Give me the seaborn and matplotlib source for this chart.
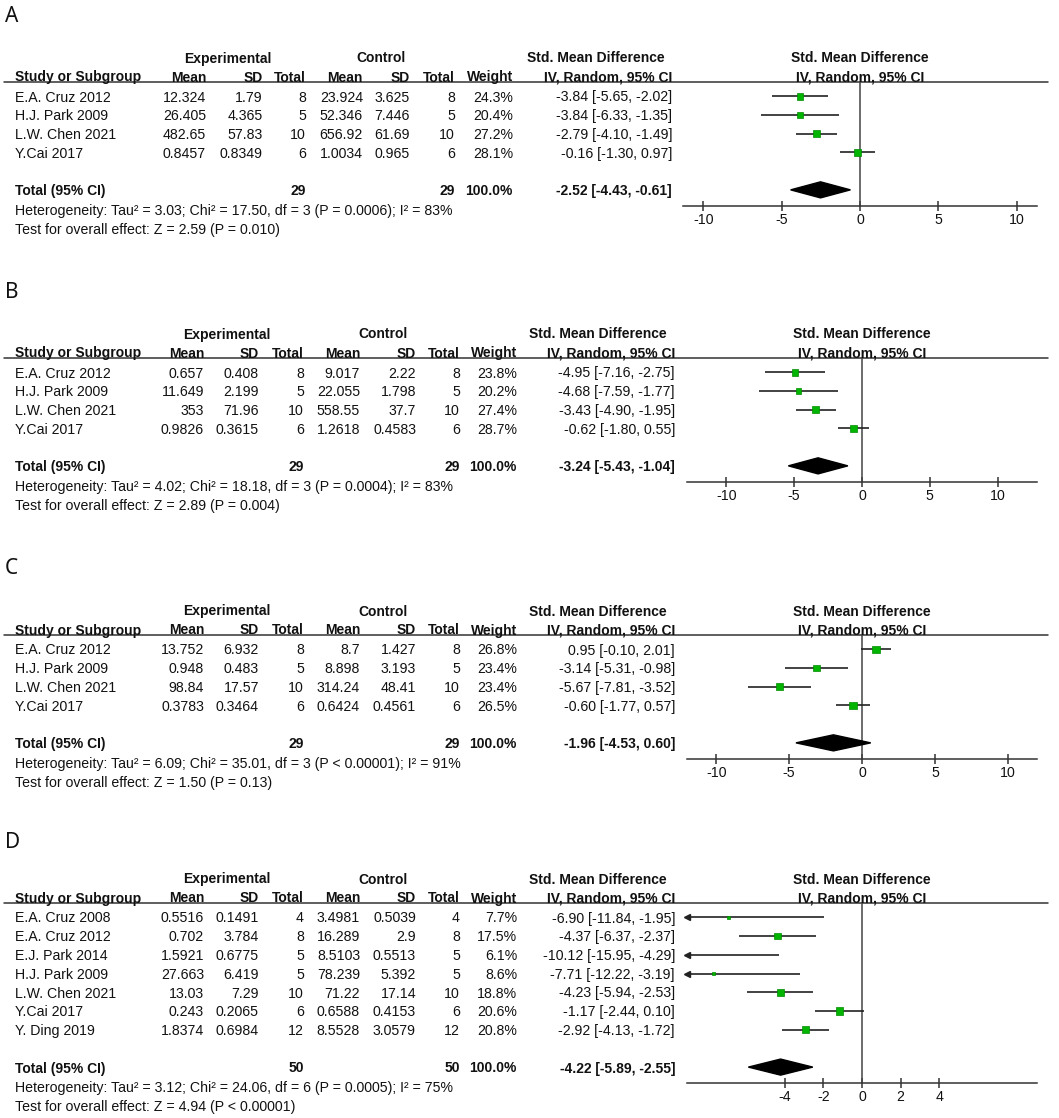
import matplotlib
matplotlib.use("Agg")
import matplotlib.pyplot as plt
import seaborn as sns
import numpy as np
import pandas as pd

# ---------------- panel A ----------------
studies_a = ["E.A. Cruz 2012", "H.J. Park 2009", "L.W. Chen 2021", "Y.Cai 2017"]
exp_mean_a = [12.324, 26.405, 482.65, 0.8457]
exp_sd_a = [1.79, 4.365, 57.83, 0.8349]
exp_n_a = [8, 5, 10, 6]
ctl_mean_a = [23.924, 52.346, 656.92, 1.0034]
ctl_sd_a = [3.625, 7.446, 61.69, 0.965]
ctl_n_a = [8, 5, 10, 6]
weight_a = [24.3, 20.4, 27.2, 28.1]
smd_a = [-3.84, -3.84, -2.79, -0.16]
lo_a = [-5.65, -6.33, -4.10, -1.30]
hi_a = [-2.02, -1.35, -1.49, 0.97]
pooled_a = [-2.52, -4.43, -0.61]
het_a = "Heterogeneity: Tau\u00b2 = 3.03; Chi\u00b2 = 17.50, df = 3 (P = 0.0006); I\u00b2 = 83%"
test_a = "Test for overall effect: Z = 2.59 (P = 0.010)"

# ---------------- panel B ----------------
studies_b = ["E.A. Cruz 2012", "H.J. Park 2009", "L.W. Chen 2021", "Y.Cai 2017"]
exp_mean_b = [0.657, 11.649, 353, 0.9826]
exp_sd_b = [0.408, 2.199, 71.96, 0.3615]
exp_n_b = [8, 5, 10, 6]
ctl_mean_b = [9.017, 22.055, 558.55, 1.2618]
ctl_sd_b = [2.22, 1.798, 37.7, 0.4583]
ctl_n_b = [8, 5, 10, 6]
weight_b = [23.8, 20.2, 27.4, 28.7]
smd_b = [-4.95, -4.68, -3.43, -0.62]
lo_b = [-7.16, -7.59, -4.90, -1.80]
hi_b = [-2.75, -1.77, -1.95, 0.55]
pooled_b = [-3.24, -5.43, -1.04]
het_b = "Heterogeneity: Tau\u00b2 = 4.02; Chi\u00b2 = 18.18, df = 3 (P = 0.0004); I\u00b2 = 83%"
test_b = "Test for overall effect: Z = 2.89 (P = 0.004)"

# ---------------- panel C ----------------
studies_c = ["E.A. Cruz 2012", "H.J. Park 2009", "L.W. Chen 2021", "Y.Cai 2017"]
exp_mean_c = [13.752, 0.948, 98.84, 0.3783]
exp_sd_c = [6.932, 0.483, 17.57, 0.3464]
exp_n_c = [8, 5, 10, 6]
ctl_mean_c = [8.7, 8.898, 314.24, 0.6424]
ctl_sd_c = [1.427, 3.193, 48.41, 0.4561]
ctl_n_c = [8, 5, 10, 6]
weight_c = [26.8, 23.4, 23.4, 26.5]
smd_c = [0.95, -3.14, -5.67, -0.60]
lo_c = [-0.10, -5.31, -7.81, -1.77]
hi_c = [2.01, -0.98, -3.52, 0.57]
pooled_c = [-1.96, -4.53, 0.60]
het_c = "Heterogeneity: Tau\u00b2 = 6.09; Chi\u00b2 = 35.01, df = 3 (P < 0.00001); I\u00b2 = 91%"
test_c = "Test for overall effect: Z = 1.50 (P = 0.13)"

# ---------------- panel D ----------------
studies_d = ["E.A. Cruz 2008", "E.A. Cruz 2012", "E.J. Park 2014", "H.J. Park 2009",
             "L.W. Chen 2021", "Y.Cai 2017", "Y. Ding 2019"]
exp_mean_d = [0.5516, 0.702, 1.5921, 27.663, 13.03, 0.243, 1.8374]
exp_sd_d = [0.1491, 3.784, 0.6775, 6.419, 7.29, 0.2065, 0.6984]
exp_n_d = [4, 8, 5, 5, 10, 6, 12]
ctl_mean_d = [3.4981, 16.289, 8.5103, 78.239, 71.22, 0.6588, 8.5528]
ctl_sd_d = [0.5039, 2.9, 0.5513, 5.392, 17.14, 0.4153, 3.0579]
ctl_n_d = [4, 8, 5, 5, 10, 6, 12]
weight_d = [7.7, 17.5, 6.1, 8.6, 18.8, 20.6, 20.8]
smd_d = [-6.90, -4.37, -10.12, -7.71, -4.23, -1.17, -2.92]
lo_d = [-11.84, -6.37, -15.95, -12.22, -5.94, -2.44, -4.13]
hi_d = [-1.95, -2.37, -4.29, -3.19, -2.53, 0.10, -1.72]
pooled_d = [-4.22, -5.89, -2.55]
het_d = "Heterogeneity: Tau\u00b2 = 3.12; Chi\u00b2 = 24.06, df = 6 (P = 0.0005); I\u00b2 = 75%"
test_d = "Test for overall effect: Z = 4.94 (P < 0.00001)"

panel_labels = ["A", "B", "C", "D"]
total_weight = 100.0

sns.set_theme(style="white")
plt.rcParams['font.family'] = ['Liberation Sans', 'DejaVu Sans']

W, H = 1059, 1118
FS = 10.2   # regular text
FB = 10.0   # bold text
TXT = '#111111'
ROW = 18.75
BASE = 5.0  # baseline sits this many px below the visual centre of a line

fig = plt.figure(figsize=(W / 100, H / 100), dpi=100)
ax0 = fig.add_axes([0, 0, 1, 1])
ax0.set_xlim(0, W)
ax0.set_ylim(H, 0)
ax0.axis('off')

cols_a = [206, 263, 306, 363, 410, 455, 513, 672]
cols_x = [204, 259, 304, 360, 416, 460, 517, 675]

panels = [
    dict(df=pd.DataFrame(dict(study=studies_a, em=exp_mean_a, es=exp_sd_a, en=exp_n_a, cm=ctl_mean_a,
                              cs=ctl_sd_a, cn=ctl_n_a, w=weight_a, smd=smd_a, lo=lo_a, hi=hi_a)),
         pooled=pooled_a, het=het_a, test=test_a, label_y=15, line_y=82, cols=cols_a,
         hdr=(228, 381), smd_hdr=(665, 672), fx=(683, 1037), lim=11.3, ticks=[-10, -5, 0, 5, 10]),
    dict(df=pd.DataFrame(dict(study=studies_b, em=exp_mean_b, es=exp_sd_b, en=exp_n_b, cm=ctl_mean_b,
                              cs=ctl_sd_b, cn=ctl_n_b, w=weight_b, smd=smd_b, lo=lo_b, hi=hi_b)),
         pooled=pooled_b, het=het_b, test=test_b, label_y=290, line_y=358, cols=cols_x,
         hdr=(227, 383), smd_hdr=(667, 675), fx=(687, 1037), lim=12.9, ticks=[-10, -5, 0, 5, 10]),
    dict(df=pd.DataFrame(dict(study=studies_c, em=exp_mean_c, es=exp_sd_c, en=exp_n_c, cm=ctl_mean_c,
                              cs=ctl_sd_c, cn=ctl_n_c, w=weight_c, smd=smd_c, lo=lo_c, hi=hi_c)),
         pooled=pooled_c, het=het_c, test=test_c, label_y=567, line_y=635, cols=cols_x,
         hdr=(227, 383), smd_hdr=(667, 675), fx=(687, 1037), lim=12.0, ticks=[-10, -5, 0, 5, 10]),
    dict(df=pd.DataFrame(dict(study=studies_d, em=exp_mean_d, es=exp_sd_d, en=exp_n_d, cm=ctl_mean_d,
                              cs=ctl_sd_d, cn=ctl_n_d, w=weight_d, smd=smd_d, lo=lo_d, hi=hi_d)),
         pooled=pooled_d, het=het_d, test=test_d, label_y=841, line_y=903, cols=cols_x,
         hdr=(227, 383), smd_hdr=(667, 675), fx=(687, 1037), lim=9.07, ticks=[-4, -2, 0, 2, 4]),
]


def txt(x, y, s, bold=False, ha='left'):
    ax0.text(x, y + BASE, s, fontsize=FB if bold else FS, weight='bold' if bold else 'normal',
             ha=ha, va='baseline', color=TXT)


for lab, p in zip(panel_labels, panels):
    df = p['df']
    n = len(df)
    ly = p['line_y']
    c = p['cols']
    row_y = lambda i: ly + 14.5 + i * ROW

    ax0.text(5, p['label_y'] + 7.5, lab, fontsize=15, ha='left', va='baseline', color=TXT,
             family=['Noto Sans', 'DejaVu Sans'])

    # headers
    h1, h2 = ly - 24.5, ly - 5.5
    txt(p['hdr'][0], h1, "Experimental", bold=True, ha='center')
    txt(p['hdr'][1], h1, "Control", bold=True, ha='center')
    txt(p['smd_hdr'][0], h1, "Std. Mean Difference", bold=True, ha='right')
    txt(p['smd_hdr'][1], h2, "IV, Random, 95% CI", bold=True, ha='right')
    fc = (p['fx'][0] + p['fx'][1]) / 2
    txt(fc, h1, "Std. Mean Difference", bold=True, ha='center')
    txt(fc, h2, "IV, Random, 95% CI", bold=True, ha='center')
    txt(15, h2, "Study or Subgroup", bold=True)
    for x, t in zip(c[:7], ["Mean", "SD", "Total", "Mean", "SD", "Total", "Weight"]):
        txt(x, h2, t, bold=True, ha='right')
    ax0.plot([4, 1048], [ly, ly], color='#333333', lw=1.1)

    # study rows
    for i, r in df.iterrows():
        y = row_y(i)
        txt(15, y, r['study'])
        vals = [f"{r['em']:g}", f"{r['es']:g}", f"{int(r['en'])}", f"{r['cm']:g}", f"{r['cs']:g}",
                f"{int(r['cn'])}", f"{r['w']:.1f}%", f"{r['smd']:.2f} [{r['lo']:.2f}, {r['hi']:.2f}]"]
        for x, t in zip(c, vals):
            txt(x, y, t, ha='right')

    # total row
    yt = row_y(n + 1)
    est, plo, phi = p['pooled']
    txt(15, yt, "Total (95% CI)", bold=True)
    txt(c[2], yt, f"{df['en'].sum()}", bold=True, ha='right')
    txt(c[5], yt, f"{df['cn'].sum()}", bold=True, ha='right')
    txt(c[6], yt, f"{total_weight:.1f}%", bold=True, ha='right')
    txt(c[7], yt, f"{est:.2f} [{plo:.2f}, {phi:.2f}]", bold=True, ha='right')
    txt(15, yt + 19.5, p['het'])
    txt(15, yt + 38.5, p['test'])

    # forest axes
    x0, x1 = p['fx']
    top = ly
    bot = ly + (n + 2.6) * ROW
    ax = fig.add_axes([x0 / W, 1 - bot / H, (x1 - x0) / W, (bot - top) / H])
    ax.set_facecolor('none')
    lim = p['lim']

    ax.axvline(0, color='#444444', lw=1.1, zorder=1)
    rows = np.arange(n)
    ax.hlines(rows, df['lo'], df['hi'], color='#222222', lw=1.2, zorder=2)
    clipped = df['lo'] < -lim
    ax.plot(np.full(clipped.sum(), -lim), rows[clipped.values], ls='none', marker='<', ms=5,
            color='#222222', clip_on=False, zorder=3)
    df = df.assign(row=rows, area=df['w'] ** 2)
    sns.scatterplot(data=df, x='smd', y='row', size='area', sizes=(0, 30),
                    size_norm=(0, df['area'].max()), marker='s', color='#00b400',
                    edgecolor='#008c00', linewidth=0.5, legend=False, ax=ax, zorder=4)
    ax.fill([plo, est, phi, est], [n + 1, n + 1 - 0.43, n + 1, n + 1 + 0.43], color='black', zorder=4)

    ax.set_xlim(-lim, lim)
    ax.set_ylim(n + 1.85, -0.77)
    ax.set_xlabel('')
    ax.set_ylabel('')
    ax.set_yticks([])
    ax.set_xticks(p['ticks'])
    ax.set_xticklabels([f"{t}" for t in p['ticks']])
    for s in ['top', 'left', 'right']:
        ax.spines[s].set_visible(False)
    ax.spines['bottom'].set_color('#333333')
    ax.spines['bottom'].set_linewidth(1.1)
    ax.tick_params(axis='x', direction='inout', length=7, width=1.1, color='#333333',
                   labelsize=FS, labelcolor=TXT, pad=1.5, bottom=True)
    ax.grid(False)

fig.savefig("out.png", dpi=100)
